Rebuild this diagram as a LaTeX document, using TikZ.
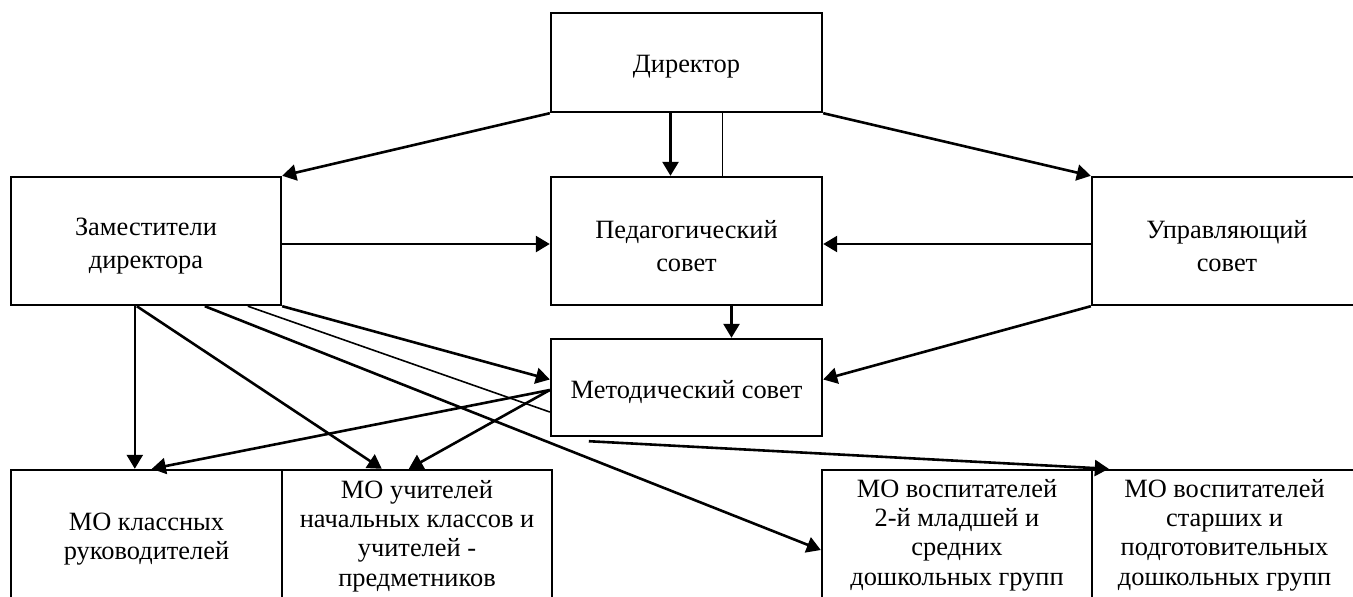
\documentclass[tikz,border=0pt]{standalone}
\usepackage{fontspec}
\setmainfont{Liberation Serif}
\usetikzlibrary{arrows.meta,calc}

\tikzset{
  box/.style={draw, line width=1.2pt, inner sep=0pt},
  upper/.style={align=center, font=\fontsize{13.2}{16.5}\selectfont},
  lower/.style={align=center, font=\fontsize{13.2}{14.6}\selectfont},
  link/.style={line width=1.3pt, -{Triangle[length=7pt,width=8pt]}},
  thinlink/.style={line width=0.8pt}
}

\begin{document}
\begin{tikzpicture}[x=0.5pt, y=-0.5pt]
  \useasboundingbox (0,0) rectangle (1353,596);

  % Director and the councils
  \node[box, minimum width=135.5pt, minimum height=49.5pt] (dir) at (686.5,62.5) {};
  \node[box, minimum width=135pt, minimum height=64pt] (zam) at (146,241) {};
  \node[box, minimum width=135.5pt, minimum height=64pt] (ped) at (686.5,241) {};
  \node[box, minimum width=135pt, minimum height=64pt] (upr) at (1227,241) {};
  \node[box, minimum width=135.5pt, minimum height=48.5pt] (metod) at (686.5,387.5) {};
  \node[upper] (dirtext) at (686.5,67) {Директор};
  \node[upper] (zamtext) at (146,246) {Заместители\\директора};
  \node[upper] (pedtext) at (686.5,246) {Педагогический\\совет};
  \node[upper] (uprtext) at (1227,246) {Управляющий\\совет};
  \node[upper] (metodtext) at (686.5,392) {Методический совет};

  % Bottom row (boxes run past the lower edge)
  \node[box, minimum width=135.5pt, minimum height=75pt] (mo1) at (146.5,545) {};
  \node[box, minimum width=135pt, minimum height=75pt] (mo2) at (417,545) {};
  \node[box, minimum width=135pt, minimum height=75pt] (mo3) at (957,545) {};
  \node[box, minimum width=132.5pt, minimum height=75pt] (mo4) at (1224.5,545) {};
  \node[lower] (mo1text) at (146.5,539) {МО классных\\руководителей};
  \node[lower] (mo2text) at (417,536) {МО учителей\\начальных классов и\\учителей -\\предметников};
  \node[lower] (mo3text) at (957,535) {МО воспитателей\\2-й младшей и\\средних\\дошкольных групп};
  \node[lower] (mo4text) at (1224.5,535) {МО воспитателей\\старших и\\подготовительных\\дошкольных групп};

  % From the director
  \draw[link] (dir.south west) -- (zam.north east);
  \draw[link] (dir.south east) -- (upr.north west);
  \draw[link] ($(dir.south)+(-16,0)$) -- ($(ped.north)+(-16,0)$);
  \draw[thinlink] ($(dir.south)+(36,0)$) -- ($(ped.north)+(36,0)$);

  % Into the pedagogical council
  \draw[link] ($(zam.east)+(0,3)$) -- ($(ped.west)+(0,3)$);
  \draw[link] ($(upr.west)+(0,3)$) -- ($(ped.east)+(0,3)$);

  % Into the methodical council
  \draw[link] ($(ped.south)+(45,0)$) -- ($(metod.north)+(45,0)$);
  \draw[link] (upr.south west) -- ($(metod.east)+(0,-8)$);
  \draw[link] (zam.south east) -- ($(metod.west)+(0,-8)$);
  \draw[thinlink] ($(zam.south west)+(238,0)$) -- ($(metod.west)+(0,24.5)$);

  % Down to the MO
  \draw[link] ($(zam.south west)+(125,0)$) -- ($(mo1.north west)+(125,0)$);
  \draw[link] ($(zam.south west)+(127,0)$) -- ($(mo2.north west)+(101,0)$);
  \draw[link] ($(zam.south west)+(195,0)$) -- ($(mo3.west)+(0,5)$);
  \draw[link] ($(metod.west)+(0,2.5)$) -- ($(mo1.north west)+(142,0)$);
  \draw[link] ($(metod.west)+(0,2.5)$) -- ($(mo2.north west)+(128,0)$);
  \draw[link] ($(metod.south west)+(39,4)$) -- ($(mo4.north west)+(18,0)$);
\end{tikzpicture}
\end{document}
